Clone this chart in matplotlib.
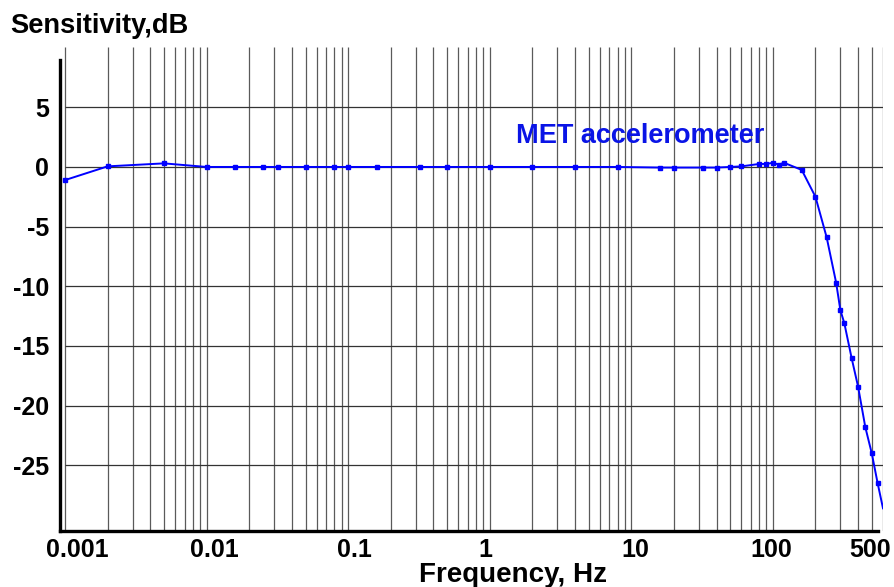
import numpy as np
import matplotlib
matplotlib.use("Agg")
import matplotlib.pyplot as plt
from matplotlib.transforms import ScaledTranslation

plt.rcParams['font.family'] = ['Liberation Sans', 'DejaVu Sans']
plt.rcParams['font.weight'] = 'bold'

# Frequency response of the MET accelerometer
freq = [0.001, 0.002, 0.005, 0.01, 0.016, 0.025, 0.032, 0.05, 0.08, 0.1,
        0.16, 0.32, 0.5, 1, 2, 4, 8, 16, 20, 32, 40, 50, 60, 80, 90, 100,
        110, 120, 160, 200, 240, 280, 300, 320, 360, 400, 450, 500, 550, 600]
sens = [-1.1, 0.05, 0.3, 0.0, 0.0, 0.0, 0.0, 0.0, 0.0, 0.0,
        0.0, 0.0, 0.0, 0.0, 0.0, 0.0, 0.0, -0.05, -0.05, -0.05, -0.05, 0.0,
        0.05, 0.25, 0.25, 0.35, 0.2, 0.35, -0.25, -2.5, -5.9, -9.7, -12.0,
        -13.1, -16.0, -18.4, -21.8, -24.0, -26.5, -28.6]

xticks = [0.001, 0.01, 0.1, 1, 10, 100, 500]
xticklabels = ["0.001", "0.01", "0.1", "1", "10", "100", "500"]
yticks = [5, 0, -5, -10, -15, -20, -25]

W, H = 894, 587
fig = plt.figure(figsize=(W / 100, H / 100), dpi=100)
ax = fig.add_axes([60 / W, 56 / H, 823 / W, 484 / H])

xmin = 10 ** (-3 - 5 / 141.4)
ymin, ymax = -30.5, 10.05
ax.set_xscale("log")
ax.set_xlim(xmin, 600)
ax.set_ylim(ymin, ymax)

# grid
vgrid = [k * 10.0 ** d for d in range(-3, 3) for k in range(1, 10)]
vgrid = [v for v in vgrid if v <= 600]
ax.vlines(vgrid, ymin, ymax, colors="#5a5a5a", linewidth=0.9, zorder=1)
ax.hlines(yticks, 0.001, 600, colors="#333333", linewidth=0.9, zorder=1)

# data
ax.plot(freq, sens, color="#0000ff", linewidth=1.4, marker="s",
        markersize=3.3, markevery=list(range(len(freq) - 1)), zorder=3)

ax.text(1.53, 2.0, "MET accelerometer", color="#0a14e6", fontsize=19.5,
        fontweight="bold", va="baseline", ha="left", zorder=4)

# axes styling
for s in ["top", "right"]:
    ax.spines[s].set_visible(False)
ax.spines["left"].set_linewidth(2.4)
ax.spines["bottom"].set_linewidth(2.4)
ax.spines["left"].set_bounds(ymin, 9)
ax.spines["bottom"].set_bounds(xmin, 555)

ax.set_xticks(xticks)
ax.set_xticklabels(xticklabels)
ax.minorticks_off()
ax.set_yticks(yticks)
ax.set_yticklabels([str(v) for v in yticks])
ax.tick_params(axis="both", length=0)
ax.tick_params(axis="y", labelsize=18, pad=8)
ax.tick_params(axis="x", labelsize=18, pad=5)
for lab in ax.get_xticklabels() + ax.get_yticklabels():
    lab.set_fontweight("bold")

# small horizontal nudges of x labels as in the original
shifts = [12, 8, 6, -4, 4, -2, -2]
for lab, dx in zip(ax.get_xticklabels(), shifts):
    lab.set_transform(lab.get_transform() +
                      ScaledTranslation(dx / 100, 0, fig.dpi_scale_trans))

fig.text(10 / W, 1 - 33 / H, "Sensitivity,dB", fontsize=19.6,
         fontweight="bold", ha="left", va="baseline")
fig.text(513 / W, 1 - 582 / H, "Frequency, Hz", fontsize=20,
         fontweight="bold", ha="center", va="baseline")

fig.savefig("out.png", dpi=100)
